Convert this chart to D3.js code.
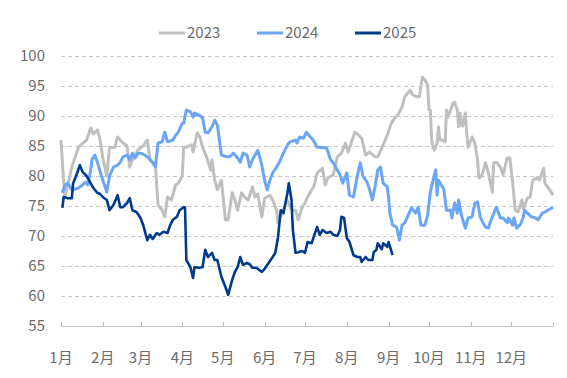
<!DOCTYPE html>
<html>
<head>
<meta charset="utf-8">
<script src="https://cdn.jsdelivr.net/npm/d3@7"></script>
<style>
  body { margin: 0; background: #fff; }
  svg { display: block; font-family: "Noto Sans CJK SC", "Noto Sans", sans-serif; }
</style>
</head>
<body>
<svg id="chart" width="567" height="378"></svg>
<script>
// x values are day of year (0 = 1月1日)
const monthLabels = ["1月", "2月", "3月", "4月", "5月", "6月", "7月", "8月", "9月", "10月", "11月", "12月"];
const monthStarts = [0, 31, 59, 90, 120, 151, 181, 212, 243, 273, 304, 334, 365];
const yTicks = [55, 60, 65, 70, 75, 80, 85, 90, 95, 100];
const seriesNames = ["2023", "2024", "2025"];

const data2023 = [
  [0,86],[2,79],[3,76.5],[8,81.5],[13,84.8],[19,86],[22,88],[24,87],[27,87.7],[29,86],[31,83],[34,80],[36,84.8],
  [40,84.8],[42,86.5],[45,85.7],[49,85],[51,81.5],[53,82.7],[57,84.3],[59,84.7],[61,85],[64,86],[66,82.7],
  [70,81.8],[72,75.2],[75,74.3],[77,73.2],[79,76.5],[82,76],[85,78.5],[87,78.8],[90,80],[91,84.8],[93,84.8],
  [97,85.2],[98,84],[101,87.2],[103,86.5],[105,84.8],[108,83.2],[111,81],[112,82.7],[114,79.3],[116,77.7],
  [119,79.3],[122,72.7],[124,72.7],[127,77.2],[129,76],[131,74.3],[134,77.2],[137,76.3],[139,76],[142,78.2],
  [144,76.5],[146,77],[149,73.2],[151,76.3],[155,76.8],[157,76],[160,74.3],[161,72.2],[164,73.8],[166,75],
  [168,76],[171,74.3],[174,74.3],[176,72.7],[179,74.8],[181,75.5],[183,76.5],[186,77.7],[188,78.5],[190,80.5],
  [194,81.3],[196,78.5],[198,79.7],[202,80.2],[205,83.2],[208,83.8],[211,85.5],[213,84],[216,86],[218,87.3],
  [220,87],[223,86.3],[226,83.5],[229,84],[233,83.2],[235,83.2],[238,84.7],[240,85.7],[242,86.8],[245,88.8],
  [248,89.8],[250,90.2],[253,91.5],[255,93.2],[259,94.3],[261,93.5],[264,93.2],[266,93.3],[268,96.5],[270,96],
  [272,95.2],[273,91],[274,91],[275,86],[276,84.8],[277,84.3],[279,85.5],[280,88.2],[281,86],[283,86],[285,85.7],
  [286,91],[287,89.8],[289,91],[291,92.2],[292,92.3],[294,91],[295,88.2],[296,90.5],[297,88.5],[298,88.3],
  [300,90.5],[301,87.2],[302,84.8],[305,86.5],[307,85.5],[309,82.7],[310,79.7],[312,80],[315,82.2],[317,80.5],
  [320,77.3],[321,82.2],[323,82.3],[326,81.5],[328,80.2],[331,83],[333,83],[335,79],[337,74.3],[339,74],
  [342,76],[343,74.5],[346,76.3],[348,76.5],[350,79.3],[353,79.7],[355,79.3],[358,81.3],[359,78.8],[361,78.2],
  [364,77.2],[365,76.8]
];

const data2024 = [
  [1,77.2],[3,78.5],[5,78.8],[8,77.7],[10,77.8],[13,78],[16,78.5],[18,79],[20,78.5],[22,81],[23,82.7],[25,83.5],
  [27,82.3],[30,80],[33,78],[34,77.3],[36,80],[39,81.5],[42,81.8],[44,82.3],[46,83.2],[49,83.5],[51,82.7],
  [53,83.8],[55,83],[57,83.8],[59,83.8],[62,83.5],[65,83],[68,82.2],[70,81.5],[72,85.5],[75,85.7],[77,87.3],
  [79,85.7],[83,86],[85,86.8],[87,87.3],[90,88.8],[91,88.8],[93,91],[96,90.7],[98,89.8],[99,90.5],[102,90.2],
  [105,89.7],[107,87.3],[109,87.2],[112,88.2],[114,89.3],[116,88.5],[119,83.5],[123,83.2],[125,83.2],[128,83.8],
  [131,83],[133,82.3],[135,83.8],[138,83.5],[140,81.5],[142,82.7],[146,84.3],[149,81.8],[151,79.3],[153,77.7],
  [155,79.3],[157,80.5],[160,81.5],[162,82.3],[165,83.8],[168,85.2],[170,85.7],[174,86],[175,85.5],[177,86.5],
  [180,86.3],[182,87.3],[185,86.5],[187,86],[190,84.8],[192,84.8],[194,84.7],[197,84.7],[200,82.7],[202,82.2],
  [205,81],[207,80.2],[209,78.8],[212,80.5],[214,76.8],[217,76.5],[220,80.2],[222,82.2],[224,80],[227,79],
  [229,77.7],[231,76],[233,78.2],[235,81],[237,81.5],[239,78.8],[242,78.2],[243,76.5],[244,73.8],[246,71.8],
  [249,71.5],[251,69.3],[253,71.8],[255,72.2],[257,73.2],[260,74.7],[263,73.8],[265,74.8],[267,71.8],[270,71.8],
  [272,73.5],[274,77.3],[276,79.3],[278,81],[279,76.8],[280,79.3],[283,78.2],[284,77.8],[286,74.3],[289,74.3],
  [290,73],[292,75.5],[294,73.8],[295,76],[297,73.5],[300,71.3],[302,73],[305,73.2],[307,75.5],[309,75.7],
  [311,73.2],[313,72.2],[315,71.5],[317,71.3],[318,72],[320,73.2],[323,74.8],[326,73],[328,73],[331,72.2],
  [332,73],[335,71.8],[336,73],[338,71.3],[341,72],[343,73.2],[344,74.3],[346,73.8],[349,73.2],[352,73],
  [354,72.7],[357,73.8],[359,74],[361,74.3],[365,74.8]
];

const data2025 = [
  [1,74.7],[2,76.5],[5,76.3],[8,76.3],[9,78.8],[12,80.5],[14,81.8],[16,80.7],[19,80],[22,78.8],[24,78],[27,77.2],
  [29,77],[31,76.5],[34,76],[36,74.3],[39,75.2],[42,76.8],[44,74.8],[46,74.8],[49,75.5],[51,76.3],[53,74.3],
  [56,74],[59,73],[61,71.8],[64,69.3],[66,70.2],[68,69.5],[71,70.5],[73,70.2],[76,70.7],[79,70.5],[81,71.8],
  [83,72.7],[86,73.2],[88,74.3],[91,74.8],[92,74.8],[93,66],[96,64.8],[98,63],[99,64.8],[102,64.7],[105,64.8],
  [107,67.7],[109,66.5],[112,67.2],[114,66],[116,66],[119,63.2],[122,61.5],[124,60.2],[127,62.7],[129,64],
  [131,64.8],[133,66.5],[135,65.2],[138,65.5],[140,65.3],[142,64.7],[145,64.7],[149,64],[151,64.5],[154,65.5],
  [157,66.5],[159,67.2],[161,69.8],[163,74.3],[165,73.8],[168,77.2],[169,78.8],[171,76],[172,71],[174,67.2],
  [176,67.3],[179,67.5],[181,67.2],[183,69],[186,68.8],[188,70.2],[190,71.5],[192,70.2],[194,71],[197,70.5],
  [200,70.7],[202,70.2],[205,70],[207,71],[208,73.2],[210,73],[212,69.7],[214,69],[217,66.8],[220,66.5],
  [222,66.5],[223,65.7],[226,66.5],[228,66],[231,66],[232,67.3],[234,67.7],[235,68.8],[238,67.8],[239,68.8],
  [242,68.2],[243,69],[246,66.8]
];

const series = [data2023, data2024, data2025];
const colors = ["#bfbfbf", "#6aa6f8", "#003a8c"];
const widths = [3, 3, 2.6];

const svg = d3.select("#chart");
const margin = {left: 61, right: 14, top: 56, bottom: 52};
const W = 567, H = 378;

const x = d3.scaleLinear().domain([0, 365]).range([margin.left, W - margin.right]);
const y = d3.scaleLinear().domain([55, 100]).range([H - margin.bottom, margin.top]);

// grid
svg.append("g")
  .selectAll("line")
  .data(yTicks.filter(d => d > 55))
  .join("line")
    .attr("x1", x(0)).attr("x2", x(365))
    .attr("y1", d => Math.round(y(d)) + 0.5).attr("y2", d => Math.round(y(d)) + 0.5)
    .attr("stroke", "#c6c6c6")
    .attr("stroke-dasharray", "4,3");

// y labels
svg.append("g")
  .selectAll("text")
  .data(yTicks)
  .join("text")
    .attr("x", 45)
    .attr("y", d => y(d))
    .attr("dy", "0.35em")
    .attr("text-anchor", "end")
    .attr("font-size", 15)
    .attr("fill", "#6b6b6b")
    .text(d => d);

// x axis
const xAxis = svg.append("g");
xAxis.append("line")
  .attr("x1", x(0)).attr("x2", x(365))
  .attr("y1", Math.round(y(55)) + 0.5).attr("y2", Math.round(y(55)) + 0.5)
  .attr("stroke", "#bfbfbf");
xAxis.selectAll(".tick")
  .data(monthStarts)
  .join("line")
    .attr("x1", d => Math.round(x(d)) + 0.5).attr("x2", d => Math.round(x(d)) + 0.5)
    .attr("y1", Math.round(y(55)) - 4).attr("y2", Math.round(y(55)) + 0.5)
    .attr("stroke", "#bfbfbf");
xAxis.selectAll("text")
  .data(monthLabels)
  .join("text")
    .attr("x", (d, i) => x(monthStarts[i]))
    .attr("y", 358)
    .attr("dy", "0.35em")
    .attr("text-anchor", "middle")
    .attr("font-size", 15)
    .attr("fill", "#6b6b6b")
    .text(d => d);

// lines
const line = d3.line()
  .x(d => x(d[0]))
  .y(d => y(d[1]));

svg.append("g")
  .selectAll("path")
  .data(series)
  .join("path")
    .attr("fill", "none")
    .attr("stroke", (d, i) => colors[i])
    .attr("stroke-width", (d, i) => widths[i])
    .attr("stroke-linejoin", "round")
    .attr("d", line);

// legend
const legend = svg.append("g")
  .selectAll("g")
  .data(seriesNames)
  .join("g")
    .attr("transform", (d, i) => `translate(${159 + i * 98},33)`);
legend.append("line")
  .attr("x1", 0).attr("x2", 26)
  .attr("stroke", (d, i) => colors[i])
  .attr("stroke-width", 3);
legend.append("text")
  .attr("x", 28)
  .attr("dy", "0.35em")
  .attr("font-size", 15)
  .attr("fill", "#6b6b6b")
  .text(d => d);
</script>
</body>
</html>
